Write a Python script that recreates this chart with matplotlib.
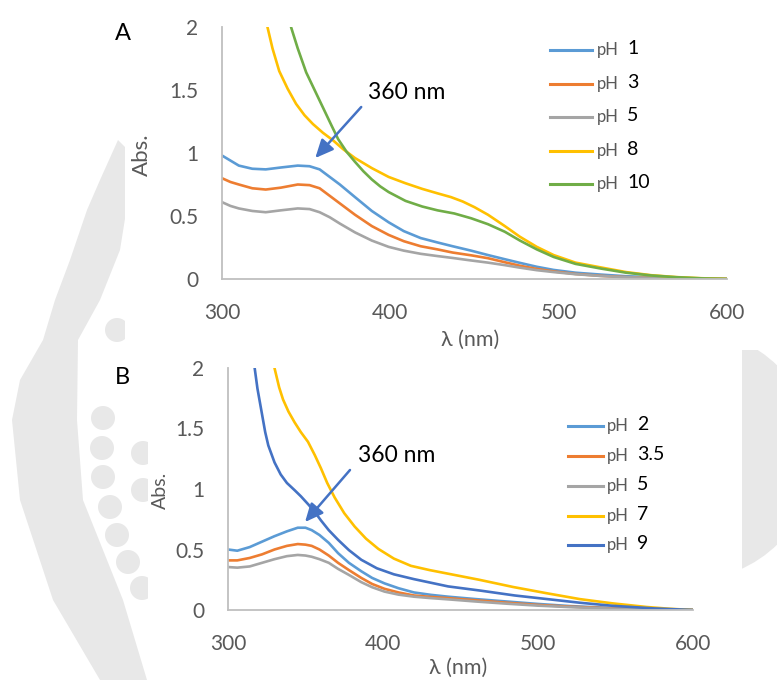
import matplotlib
matplotlib.use("Agg")
import matplotlib.pyplot as plt
from matplotlib.patches import Polygon, Circle, Rectangle

plt.rcParams.update({
    "font.family": ["Lato", "DejaVu Sans"],
    "font.size": 15,
})

W, H = 777, 680

# ---- panel A spectra ----
wl_a_low = [300, 305, 310, 318, 326, 335, 345, 352, 358, 364, 370, 379, 389, 399, 408,
            418, 428, 437, 448, 458, 468, 477, 487, 497, 510, 525, 540, 560, 580, 600]
abs_ph1 = [0.98, 0.94, 0.90, 0.875, 0.87, 0.885, 0.90, 0.895, 0.87, 0.81, 0.75, 0.65, 0.54,
           0.45, 0.38, 0.325, 0.29, 0.26, 0.225, 0.19, 0.157, 0.128, 0.097, 0.072, 0.05, 0.035,
           0.022, 0.012, 0.005, 0.0]
abs_ph3 = [0.80, 0.77, 0.75, 0.72, 0.71, 0.725, 0.75, 0.745, 0.72, 0.66, 0.60, 0.51, 0.42,
           0.35, 0.30, 0.26, 0.235, 0.21, 0.188, 0.165, 0.133, 0.105, 0.08, 0.06, 0.04, 0.025,
           0.015, 0.008, 0.003, 0.0]
abs_ph5 = [0.61, 0.58, 0.56, 0.54, 0.53, 0.545, 0.56, 0.555, 0.53, 0.49, 0.44, 0.37, 0.305,
           0.255, 0.225, 0.20, 0.182, 0.167, 0.147, 0.13, 0.11, 0.09, 0.07, 0.055, 0.038, 0.024,
           0.014, 0.007, 0.003, 0.0]
wl_ph8 = [327, 330, 334, 339, 344, 349, 354, 360, 366, 372, 379, 389, 399, 409, 419, 428,
          436, 443, 450, 458, 468, 477, 487, 497, 510, 525, 540, 555, 570, 585, 600]
abs_ph8 = [2.0, 1.83, 1.65, 1.51, 1.39, 1.30, 1.23, 1.16, 1.10, 1.03, 0.96, 0.88, 0.81, 0.76,
           0.715, 0.68, 0.65, 0.615, 0.57, 0.51, 0.42, 0.335, 0.255, 0.19, 0.13, 0.092, 0.055,
           0.03, 0.015, 0.006, 0.0]
wl_ph10 = [341, 345, 350, 355, 360, 365, 369, 374, 379, 384, 389, 394, 399, 409, 419, 428,
           438, 448, 458, 468, 477, 487, 497, 510, 525, 540, 555, 570, 585, 600]
abs_ph10 = [2.0, 1.83, 1.64, 1.50, 1.36, 1.22, 1.11, 1.01, 0.93, 0.855, 0.79, 0.735, 0.69,
            0.62, 0.575, 0.545, 0.52, 0.482, 0.435, 0.375, 0.305, 0.235, 0.175, 0.12, 0.083,
            0.05, 0.028, 0.014, 0.005, 0.0]

# ---- panel B spectra ----
wl_b_low = [300, 306, 314, 322, 330, 338, 345, 350, 354, 359, 365, 371, 378, 386, 393, 401,
            410, 420, 431, 442, 460, 480, 500, 520, 545, 570, 600]
abs_ph2 = [0.50, 0.49, 0.52, 0.565, 0.61, 0.65, 0.68, 0.68, 0.66, 0.62, 0.555, 0.47, 0.39,
           0.32, 0.265, 0.22, 0.18, 0.145, 0.125, 0.11, 0.09, 0.07, 0.05, 0.033, 0.018, 0.008, 0.0]
abs_ph35 = [0.41, 0.41, 0.43, 0.46, 0.50, 0.53, 0.545, 0.54, 0.53, 0.50, 0.45, 0.39, 0.33,
            0.265, 0.215, 0.175, 0.145, 0.12, 0.108, 0.098, 0.08, 0.06, 0.042, 0.028, 0.015,
            0.006, 0.0]
abs_ph5b = [0.355, 0.35, 0.36, 0.39, 0.42, 0.445, 0.455, 0.45, 0.44, 0.42, 0.39, 0.34, 0.29,
            0.23, 0.188, 0.152, 0.127, 0.11, 0.098, 0.088, 0.07, 0.052, 0.036, 0.024, 0.012,
            0.005, 0.0]
wl_ph7 = [330, 333, 335.5, 339, 343, 347, 351.6, 356, 360, 364, 368.8, 375, 381.7, 389, 397,
          407, 418, 430, 442, 462, 484, 505, 527, 548, 570, 585, 600]
abs_ph7 = [2.0, 1.84, 1.74, 1.64, 1.55, 1.47, 1.39, 1.28, 1.17, 1.05, 0.93, 0.80, 0.69, 0.59,
           0.505, 0.425, 0.365, 0.33, 0.30, 0.25, 0.19, 0.14, 0.09, 0.055, 0.025, 0.01, 0.0]
wl_ph9 = [317.2, 319, 321.5, 324, 326, 330, 334, 338, 343, 347, 352, 356, 360, 365, 371,
          378, 386, 396, 407, 420, 442, 463, 485, 506, 527, 548, 575, 600]
abs_ph9 = [2.0, 1.83, 1.65, 1.47, 1.36, 1.22, 1.12, 1.05, 0.99, 0.94, 0.87, 0.81, 0.74, 0.66,
           0.58, 0.495, 0.415, 0.345, 0.295, 0.255, 0.195, 0.16, 0.12, 0.09, 0.06, 0.035,
           0.013, 0.0]

ph_a = ["1", "3", "5", "8", "10"]
ph_b = ["2", "3.5", "5", "7", "9"]
colors_a = ["#5B9BD5", "#ED7D31", "#A5A5A5", "#FFC000", "#70AD47"]
colors_b = ["#5B9BD5", "#ED7D31", "#A5A5A5", "#FFC000", "#4472C4"]
series_a = [(wl_a_low, abs_ph1), (wl_a_low, abs_ph3), (wl_a_low, abs_ph5),
            (wl_ph8, abs_ph8), (wl_ph10, abs_ph10)]
series_b = [(wl_b_low, abs_ph2), (wl_b_low, abs_ph35), (wl_b_low, abs_ph5b),
            (wl_ph7, abs_ph7), (wl_ph9, abs_ph9)]

x_ticks = [300, 400, 500, 600]
y_ticks = [0, 0.5, 1, 1.5, 2]
y_ticklabels = ["0", "0.5", "1", "1.5", "2"]

GREY_TXT = "#595959"
ARROW = "#4472C4"

fig = plt.figure(figsize=(W / 100, H / 100), dpi=100, facecolor="white")

# faint background artwork behind the two white chart cards (pixel coordinates)
bg = fig.add_axes([0, 0, 1, 1], zorder=-5)
bg.set_xlim(0, W)
bg.set_ylim(H, 0)
bg.axis("off")
wm = "#E8E8E8"
band = [(118, 140), (100, 180), (87, 210), (70, 260), (55, 300), (43, 340), (20, 380),
        (12, 420), (20, 500), (53, 600), (100, 680), (147, 680), (123, 600), (83, 500),
        (77, 420), (78, 340), (100, 300), (120, 250), (128, 200), (128, 150)]
bg.add_patch(Polygon(band, closed=True, facecolor=wm, edgecolor="none"))
for cx, cy in [(117, 330), (103, 418), (102, 448), (103, 477), (110, 507), (117, 535),
               (128, 562), (142, 588), (143, 453), (143, 490)]:
    bg.add_patch(Circle((cx, cy), 12, facecolor=wm, edgecolor="none"))
bg.add_patch(Circle((690, 455), 125, facecolor=wm, edgecolor="none"))
bg.add_patch(Rectangle((125, 0), W - 125, 350, facecolor="white", edgecolor="none"))
bg.add_patch(Rectangle((148, 350), 742 - 148, H - 350, facecolor="white", edgecolor="none"))


def px_box(x0, x1, y_top, y_bot):
    return [x0 / W, 1 - y_bot / H, (x1 - x0) / W, (y_bot - y_top) / H]


def draw_panel(box, series, colors, ph_labels, leg_x, leg_rows, note_xy, arrow_from, arrow_to):
    ax = fig.add_axes(box)
    ax.set_facecolor("none")
    for (wl, ab), col in zip(series, colors):
        ax.plot(wl, ab, color=col, lw=1.9, solid_capstyle="round", solid_joinstyle="round")
    ax.set_xlim(300, 600)
    ax.set_ylim(0, 2)
    ax.set_xticks(x_ticks)
    ax.set_yticks(y_ticks)
    ax.set_yticklabels(y_ticklabels)
    ax.tick_params(length=0, labelsize=15, labelcolor=GREY_TXT)
    ax.tick_params(axis="y", pad=17)
    ax.tick_params(axis="x", pad=17)
    for s in ["top", "right"]:
        ax.spines[s].set_visible(False)
    for s in ["left", "bottom"]:
        ax.spines[s].set_color("#BFBFBF")
        ax.spines[s].set_linewidth(1.3)

    # legend drawn by hand: grey "pH" and black number
    x0, x1, x_ph, x_num = leg_x
    for col, lab, yr in zip(colors, ph_labels, leg_rows):
        ax.plot([x0, x1], [yr, yr], color=col, lw=2.2, transform=ax.transAxes, clip_on=False)
        ax.text(x_ph, yr, "pH", transform=ax.transAxes, color=GREY_TXT, fontsize=12,
                va="center", ha="left")
        ax.text(x_num, yr + 0.005, lab, transform=ax.transAxes, color="black", fontsize=14,
                va="center", ha="left")

    ax.text(note_xy[0], note_xy[1], "360 nm", fontsize=16.5, color="black", va="center", ha="left")
    ax.annotate("", xy=arrow_to, xytext=arrow_from,
                arrowprops=dict(arrowstyle="-|>,head_length=0.55,head_width=0.25", color=ARROW,
                                lw=1.8, mutation_scale=20, shrinkA=0, shrinkB=0))
    return ax


draw_panel(px_box(222, 727, 27, 279), series_a, colors_a, ph_a,
           (0.650, 0.733, 0.743, 0.802), [0.909, 0.774, 0.643, 0.508, 0.377],
           (387, 1.48), (382.7, 1.365), (355.4, 0.96))
draw_panel(px_box(228, 693, 368, 610), series_b, colors_b, ph_b,
           (0.731, 0.806, 0.815, 0.880), [0.760, 0.636, 0.512, 0.388, 0.269],
           (383.9, 1.28), (378.7, 1.157), (349.7, 0.727))


def ftext(x, y, s, **kw):
    fig.text(x / W, 1 - y / H, s, ha="center", va="center", **kw)


ftext(123, 33, "A", fontsize=17, color="black")
ftext(122, 378, "B", fontsize=17, color="black")
ftext(142, 155, "Abs.", fontsize=16, color=GREY_TXT, rotation=90)
ftext(160, 490, "Abs.", fontsize=14, color=GREY_TXT, rotation=90)
ftext(470, 340, "λ (nm)", fontsize=15.5, color=GREY_TXT)
ftext(458, 668, "λ (nm)", fontsize=15.5, color=GREY_TXT)

fig.savefig("out.png", dpi=100, facecolor="white")
